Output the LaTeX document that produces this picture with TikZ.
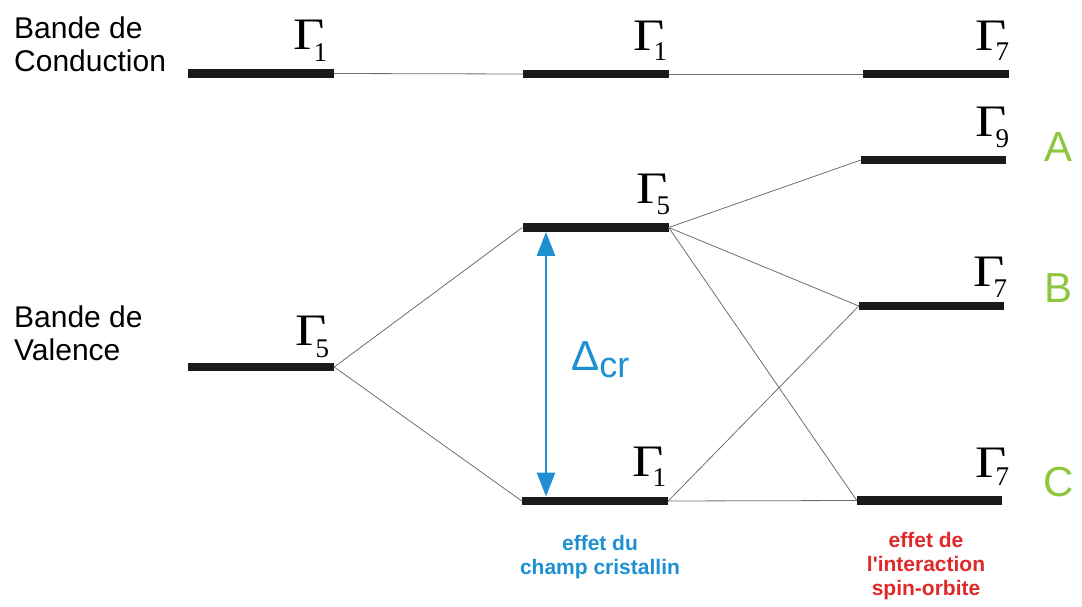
\documentclass[tikz,border=0pt]{standalone}
\usepackage{fontspec}
\setmainfont{Liberation Sans}
\newfontfamily\gamfont{Liberation Serif}
\usetikzlibrary{arrows.meta}
\definecolor{cblue}{RGB}{30,144,210}
\definecolor{cred}{RGB}{225,40,40}
\definecolor{cgreen}{RGB}{141,198,63}
\definecolor{cbar}{RGB}{26,26,26}
\definecolor{cthin}{RGB}{110,110,110}
% #1 name, #2 right x of Gamma, #3 baseline of Gamma, #4 drop of subscript, #5 subscript
\newcommand\glab[5]{%
  \node[gam,anchor=base east] (#1) at ([xshift=2pt]#2,#3) {\gamfont\scalebox{1.2}[1]{\fontsize{45}{45}\selectfont Γ}\kern-11.5pt\raisebox{-#4pt}{\fontsize{27}{27}\selectfont #5}};
}
\begin{document}
\begin{tikzpicture}[x=1pt,y=-1pt,
  bar/.style={fill=cbar,draw=none,inner sep=0pt,minimum width=146pt,minimum height=8.5pt},
  thin/.style={draw=cthin,line width=0.8pt},
  gam/.style={inner sep=0pt,outer sep=0pt},
  side/.style={font=\fontsize{30}{33}\selectfont,align=left,inner sep=0pt,anchor=north west},
  letter/.style={font=\fontsize{42}{42}\selectfont,text=cgreen,inner sep=0pt,anchor=base west},
  note/.style={font=\fontsize{21}{24}\selectfont\bfseries,align=center,inner sep=0pt,anchor=north}]
\useasboundingbox (0,0) rectangle (1082,607);
% bars
\node[bar] (cL) at (261,73.5) {};
\node[bar] (cM) at (596,74) {};
\node[bar] (cR) at (936,74) {};
\node[bar] (vL) at (261,367) {};
\node[bar] (m5) at (595.5,227.5) {};
\node[bar] (m1) at (595,501) {};
\node[bar,minimum width=145pt] (r9) at (933.5,160) {};
\node[bar,minimum width=145pt] (r7b) at (931.5,306) {};
\node[bar,minimum width=145pt] (r7c) at (929.5,500.5) {};
% thin connectors
\draw[thin] (cL.east) -- (cM.west);
\draw[thin] (cM.east) -- (cR.west);
\draw[thin] (vL.east) -- (m5.west);
\draw[thin] (vL.east) -- (m1.west);
\draw[thin] (m5.east) -- (r9.west);
\draw[thin] (m5.east) -- (r7b.west);
\draw[thin] (m5.east) -- (r7c.west);
\draw[thin] (m1.east) -- (r7b.west);
\draw[thin] (m1.east) -- (r7c.west);
% crystal field arrow
\coordinate (ax) at (546,0);
\coordinate (at) at (ax |- m5.south);
\coordinate (ab) at (ax |- m1.north);
\draw[cblue,line width=2.8pt,{Triangle[width=18pt,length=24pt]}-{Triangle[width=18pt,length=24pt]}] (at) -- (ab);
\node[inner sep=0pt,anchor=base west,text=cblue] (dcr) at (571,370) {\fontsize{42}{42}\selectfont Δ\raisebox{-7pt}{\fontsize{36}{36}\selectfont cr}};
% gamma labels
\glab{gcL}{325}{50}{12}{1}
\glab{gcM}{665}{51}{10}{1}
\glab{gcR}{1007}{51}{10}{7}
\glab{gvL}{327}{345}{12}{5}
\glab{gm5}{668}{204}{10}{5}
\glab{gm1}{664}{476}{10}{1}
\glab{gr9}{1007}{137}{11}{9}
\glab{gr7b}{1005}{286}{11}{7}
\glab{gr7c}{1007}{477}{8}{7}
% side texts
\node[side] (tc) at (14,17) {Bande de\\Conduction};
\node[side] (tv) at (14,306) {Bande de\\Valence};
% letters
\node[letter] (lA) at (1044,161) {A};
\node[letter] (lB) at (1044,302) {B};
\node[letter] (lC) at (1043,496) {C};
% notes
\node[note,text=cblue] (n1) at (600,535) {effet du\\champ cristallin};
\node[note,text=cred] (n2) at (926,532) {effet de\\l\textquotesingle interaction\\spin-orbite};
\end{tikzpicture}
\end{document}
